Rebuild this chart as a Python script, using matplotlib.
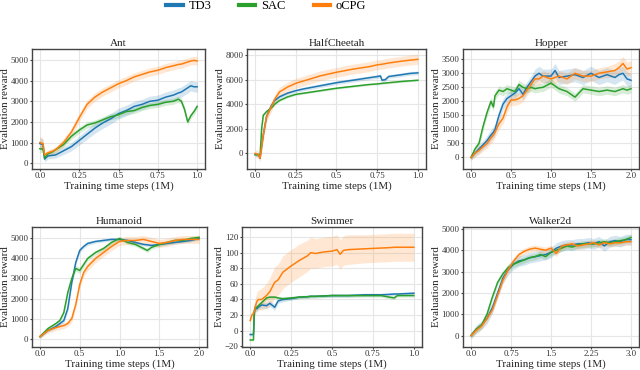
import matplotlib
matplotlib.use("Agg")
import matplotlib.pyplot as plt

plt.rcParams['font.family'] = ['Liberation Serif', 'DejaVu Serif']

colors = {'TD3': '#1f77b4', 'SAC': '#2ca02c', 'oCPG': '#ff7f0e'}

# ---- Ant ----
ant_x = [0, 0.02, 0.03, 0.05, 0.08, 0.1, 0.15, 0.2, 0.25, 0.3, 0.35, 0.4, 0.45, 0.5,
         0.55, 0.6, 0.65, 0.7, 0.75, 0.8, 0.85, 0.88, 0.9, 0.92, 0.94, 0.96, 0.98, 1.0]
ant_td3 = [950, 900, 200, 350, 380, 400, 600, 800, 1100, 1400, 1700, 1950, 2150, 2400,
           2550, 2750, 2850, 3000, 3050, 3200, 3300, 3400, 3450, 3550, 3650, 3750, 3700, 3700]
ant_sac = [700, 680, 250, 450, 550, 650, 900, 1300, 1600, 1850, 1950, 2100, 2250, 2350,
           2500, 2550, 2700, 2800, 2850, 2950, 3000, 3100, 3000, 2600, 2000, 2300, 2500, 2750]
ant_ocpg = [1000, 950, 400, 500, 580, 650, 1000, 1500, 2200, 2850, 3200, 3450, 3650, 3850,
            4000, 4180, 4300, 4420, 4500, 4630, 4720, 4780, 4800, 4850, 4900, 4950, 4980, 4950]
ant_td3_sd = [300, 250, 150, 150, 150, 150, 180, 200, 220, 240, 250, 260, 260, 260,
              260, 250, 250, 250, 250, 250, 250, 250, 250, 250, 250, 250, 250, 250]
ant_sac_sd = [200, 150, 100, 120, 120, 120, 130, 150, 150, 150, 150, 150, 150, 150,
              150, 150, 150, 150, 150, 150, 150, 150, 150, 150, 150, 150, 150, 150]
ant_ocpg_sd = [300, 250, 120, 150, 150, 150, 180, 200, 200, 200, 200, 200, 200, 200,
               200, 200, 200, 200, 200, 200, 200, 200, 200, 200, 200, 200, 200, 200]

# ---- HalfCheetah ----
hc_x = [0, 0.02, 0.03, 0.04, 0.05, 0.07, 0.1, 0.12, 0.15, 0.2, 0.25, 0.3, 0.4, 0.5,
        0.6, 0.7, 0.75, 0.77, 0.78, 0.8, 0.82, 0.9, 0.95, 1.0]
hc_td3 = [-100, -100, -400, 600, 1500, 3000, 3900, 4300, 4600, 4900, 5100, 5250, 5500, 5750,
          5950, 6150, 6250, 6300, 5950, 6000, 6250, 6400, 6500, 6550]
hc_sac = [-100, -100, -300, 2000, 3100, 3400, 3700, 4000, 4300, 4600, 4800, 4900, 5100, 5300,
          5450, 5600, 5650, 5680, 5700, 5720, 5750, 5850, 5900, 5950]
hc_ocpg = [0, -100, -400, 500, 1500, 3000, 3800, 4400, 5000, 5400, 5700, 5900, 6300, 6600,
           6850, 7050, 7200, 7230, 7250, 7300, 7350, 7500, 7580, 7650]
hc_td3_sd = [150, 150, 150, 300, 300, 250, 200, 200, 180, 150, 150, 150, 150, 150,
             150, 150, 150, 150, 150, 150, 150, 150, 150, 150]
hc_sac_sd = [100, 100, 100, 200, 150, 100, 80, 80, 80, 80, 80, 80, 80, 80,
             80, 80, 80, 80, 80, 80, 80, 80, 80, 80]
hc_ocpg_sd = [300, 300, 300, 500, 500, 450, 400, 400, 400, 400, 400, 400, 400, 400,
              400, 400, 400, 400, 400, 400, 400, 400, 400, 400]

# ---- Hopper ----
hop_x = [0, 0.05, 0.1, 0.15, 0.2, 0.25, 0.28, 0.3, 0.35, 0.4, 0.45, 0.5, 0.55, 0.6, 0.65,
         0.7, 0.75, 0.8, 0.85, 0.9, 1.0, 1.05, 1.1, 1.2, 1.3, 1.4, 1.5, 1.6, 1.7, 1.8,
         1.85, 1.9, 1.95, 2.0]
hop_td3 = [0, 150, 300, 450, 600, 800, 900, 1000, 1500, 1900, 2100, 2200, 2300, 2450, 2250,
           2500, 2700, 2900, 3000, 2900, 2900, 3100, 2850, 2900, 2950, 2850, 3000, 2850, 2950, 2850,
           2950, 3000, 2800, 2750]
hop_sac = [0, 300, 500, 1100, 1600, 2000, 1800, 2200, 2400, 2350, 2450, 2400, 2350, 2600, 2500,
           2450, 2500, 2450, 2480, 2500, 2650, 2550, 2450, 2350, 2150, 2450, 2400, 2350, 2400, 2350,
           2400, 2450, 2400, 2450]
hop_ocpg = [0, 150, 250, 380, 500, 700, 800, 900, 1200, 1400, 1800, 2050, 2050, 2100, 2200,
            2400, 2600, 2800, 2800, 2900, 2800, 2850, 2900, 2800, 3000, 2900, 2900, 3000, 3050, 3100,
            3200, 3350, 3150, 3200]
hop_td3_sd = [100, 120, 150, 150, 180, 200, 200, 200, 200, 200, 200, 200, 200, 200, 200,
              200, 200, 250, 250, 250, 250, 250, 250, 250, 250, 250, 250, 250, 250, 250,
              250, 250, 250, 250]
hop_sac_sd = [100, 120, 150, 150, 150, 150, 150, 150, 150, 150, 150, 150, 150, 150, 150,
              150, 150, 150, 150, 150, 150, 150, 150, 150, 150, 150, 150, 150, 150, 150,
              150, 150, 150, 150]
hop_ocpg_sd = [100, 120, 150, 150, 180, 200, 200, 200, 200, 200, 200, 200, 200, 200, 200,
               200, 200, 200, 200, 200, 200, 200, 200, 200, 200, 200, 200, 200, 200, 250,
               250, 250, 250, 250]

# ---- Humanoid ----
hum_x = [0, 0.1, 0.2, 0.25, 0.3, 0.35, 0.4, 0.45, 0.5, 0.55, 0.6, 0.7, 0.8, 0.9, 1.0,
         1.1, 1.2, 1.3, 1.35, 1.4, 1.5, 1.6, 1.7, 1.8, 1.9, 2.0]
hum_td3 = [100, 400, 600, 750, 900, 1500, 2800, 3800, 4400, 4600, 4750, 4850, 4900, 4950, 4950,
           4900, 4800, 4700, 4680, 4650, 4700, 4750, 4800, 4850, 4900, 5000]
hum_sac = [100, 500, 750, 900, 1300, 2300, 3000, 3500, 3400, 3700, 4000, 4300, 4500, 4800, 5000,
           4800, 4700, 4500, 4400, 4550, 4700, 4800, 4900, 4900, 5000, 5050]
hum_ocpg = [100, 400, 550, 600, 650, 750, 1000, 1700, 2700, 3300, 3600, 4000, 4300, 4600, 4850,
            4900, 4900, 4950, 4900, 4850, 4750, 4800, 4900, 4950, 4950, 4950]
hum_td3_sd = [80, 80, 100, 100, 120, 150, 150, 150, 120, 100, 100, 80, 80, 80, 80,
              80, 80, 80, 80, 80, 80, 80, 80, 80, 80, 80]
hum_sac_sd = [80, 80, 100, 100, 120, 150, 150, 150, 150, 150, 120, 100, 100, 100, 100,
              100, 100, 100, 100, 100, 100, 100, 100, 100, 100, 100]
hum_ocpg_sd = [100, 120, 150, 150, 150, 150, 180, 200, 200, 200, 200, 200, 200, 200, 200,
               200, 200, 200, 200, 200, 200, 200, 200, 200, 200, 200]

# ---- Swimmer ----
sw_x = [0, 0.01, 0.02, 0.025, 0.03, 0.04, 0.05, 0.07, 0.1, 0.12, 0.15, 0.17, 0.2, 0.25, 0.3,
        0.35, 0.37, 0.4, 0.45, 0.5, 0.53, 0.55, 0.57, 0.6, 0.7, 0.8, 0.85, 0.88, 0.9, 1.0]
sw_td3 = [-5, -5, -5, 20, 30, 28, 30, 33, 32, 35, 30, 38, 40, 41, 43,
          43.5, 44, 44, 44.5, 45, 45, 45, 45, 45, 46, 46, 46.5, 47, 47, 48]
sw_sac = [-12, -12, -12, 25, 28, 30, 32, 36, 42, 43, 43, 42, 41, 42, 43,
          43.5, 44, 44, 44.5, 45, 45, 45, 45, 45, 45, 45, 43, 42, 45, 45]
sw_ocpg = [13, 20, 22, 25, 30, 37, 40, 40, 45, 50, 62, 65, 75, 83, 90,
           96, 100, 99, 101, 102, 104, 98, 103, 104, 105, 106, 106.5, 107, 107, 107]
sw_td3_sd = [2, 2, 2, 4, 4, 4, 4, 4, 4, 4, 4, 3, 3, 2, 2,
             2, 2, 2, 2, 2, 2, 2, 2, 2, 2, 2, 2, 2, 2, 2]
sw_sac_sd = [1, 1, 1, 3, 3, 3, 3, 2, 2, 2, 2, 2, 2, 2, 2,
             2, 2, 2, 2, 2, 2, 2, 2, 2, 2, 2, 2, 2, 2, 2]
sw_ocpg_sd = [3, 5, 8, 10, 10, 12, 12, 14, 16, 18, 20, 20, 21, 21, 21,
              20, 20, 19, 19, 19, 19, 19, 19, 19, 18, 18, 18, 18, 18, 18]

# ---- Walker2d ----
wk_x = [0, 0.1, 0.2, 0.3, 0.4, 0.5, 0.6, 0.7, 0.8, 0.9, 1.0, 1.1, 1.2, 1.3, 1.4, 1.5,
        1.6, 1.7, 1.8, 1.9, 2.0, 2.1, 2.2, 2.3, 2.4, 2.5, 2.6, 2.7, 2.8, 2.9, 3.0]
wk_td3 = [0, 300, 500, 800, 1300, 2000, 2700, 3100, 3350, 3500, 3550, 3650, 3700, 3750, 3800, 3900,
          4100, 4200, 4250, 4250, 4300, 4300, 4350, 4300, 4400, 4200, 4400, 4450, 4400, 4500, 4500]
wk_sac = [0, 300, 500, 1000, 1800, 2500, 2900, 3200, 3350, 3450, 3550, 3650, 3700, 3800, 3700, 3900,
          4000, 4100, 4200, 4150, 4250, 4300, 4300, 4300, 4350, 4400, 4350, 4400, 4450, 4500, 4600]
wk_ocpg = [0, 250, 450, 800, 1200, 1900, 2600, 3100, 3500, 3800, 3950, 4050, 4100, 4050, 4000, 4100,
           3850, 4200, 4250, 4300, 4200, 4250, 4300, 4350, 4250, 4350, 4300, 4350, 4350, 4400, 4400]
wk_td3_sd = [150, 200, 200, 250, 250, 250, 250, 250, 250, 250, 250, 250, 250, 250, 250, 250,
             250, 250, 250, 250, 250, 250, 250, 250, 250, 250, 250, 250, 250, 250, 250]
wk_sac_sd = [100, 150, 150, 150, 150, 150, 150, 150, 150, 150, 150, 150, 150, 150, 150, 150,
             150, 150, 150, 150, 150, 150, 150, 150, 150, 150, 150, 150, 150, 150, 150]
wk_ocpg_sd = [100, 150, 150, 150, 150, 150, 150, 150, 150, 150, 150, 150, 150, 150, 150, 150,
              150, 150, 150, 150, 150, 150, 150, 150, 150, 150, 150, 150, 150, 150, 150]

panels = [
    ('Ant', ant_x, [ant_td3, ant_sac, ant_ocpg], [ant_td3_sd, ant_sac_sd, ant_ocpg_sd],
     [0, 0.25, 0.5, 0.75, 1.0], ['0.0', '0.25', '0.5', '0.75', '1.0'],
     [0, 1000, 2000, 3000, 4000, 5000], (-280, 5530), [32, 49, 205, 169]),
    ('HalfCheetah', hc_x, [hc_td3, hc_sac, hc_ocpg], [hc_td3_sd, hc_sac_sd, hc_ocpg_sd],
     [0, 0.25, 0.5, 0.75, 1.0], ['0.0', '0.25', '0.5', '0.75', '1.0'],
     [0, 2000, 4000, 6000, 8000], (-1270, 8490), [247, 49, 426, 169]),
    ('Hopper', hop_x, [hop_td3, hop_sac, hop_ocpg], [hop_td3_sd, hop_sac_sd, hop_ocpg_sd],
     [0, 0.5, 1.0, 1.5, 2.0], ['0.0', '0.5', '1.0', '1.5', '2.0'],
     [0, 500, 1000, 1500, 2000, 2500, 3000, 3500], (-410, 3865), [463, 49, 639, 169]),
    ('Humanoid', hum_x, [hum_td3, hum_sac, hum_ocpg], [hum_td3_sd, hum_sac_sd, hum_ocpg_sd],
     [0, 0.5, 1.0, 1.5, 2.0], ['0.0', '0.5', '1.0', '1.5', '2.0'],
     [0, 1000, 2000, 3000, 4000, 5000], (-420, 5570), [32, 227, 207, 347]),
    ('Swimmer', sw_x, [sw_td3, sw_sac, sw_ocpg], [sw_td3_sd, sw_sac_sd, sw_ocpg_sd],
     [0, 0.25, 0.5, 0.75, 1.0], ['0.0', '0.25', '0.5', '0.75', '1.0'],
     [-20, 0, 20, 40, 60, 80, 100, 120], (-21, 133), [242, 227, 422, 347]),
    ('Walker2d', wk_x, [wk_td3, wk_sac, wk_ocpg], [wk_td3_sd, wk_sac_sd, wk_ocpg_sd],
     [0, 0.75, 1.5, 2.25, 3.0], ['0.0', '0.75', '1.5', '2.25', '3.0'],
     [0, 1000, 2000, 3000, 4000, 5000], (-535, 5090), [463, 227, 639, 347]),
]

W, H = 640, 370
fig = plt.figure(figsize=(6.4, 3.7), dpi=100)

for title, x, series, sds, xt, xtl, yt, ylim, box in panels:
    l, t, r, b = box
    ax = fig.add_axes([l / W, 1 - b / H, (r - l) / W, (b - t) / H])
    for name, y, sd in zip(['TD3', 'SAC', 'oCPG'], series, sds):
        lo = [v - s for v, s in zip(y, sd)]
        hi = [v + s for v, s in zip(y, sd)]
        ax.fill_between(x, lo, hi, color=colors[name], alpha=0.18, lw=0)
        ax.plot(x, y, color=colors[name], lw=1.1, label=name)
    ax.set_title(title, fontsize=8, pad=2.5, color='#222222')
    ax.set_xticks(xt)
    ax.set_xticklabels(xtl)
    ax.set_yticks(yt)
    ax.set_ylim(*ylim)
    ax.set_xlim(-0.05 * max(xt), 1.05 * max(xt))
    ax.grid(True, color='#e6e6e6', lw=0.8)
    ax.set_axisbelow(True)
    for sp in ax.spines.values():
        sp.set_color('#444444')
        sp.set_linewidth(1.0)
    ax.tick_params(labelsize=6.4, length=1.5, width=0.8, pad=1.0, color='#444444',
                   labelcolor='#333333')
    ax.set_xlabel('Training time steps (1M)', fontsize=7.8, labelpad=0.5, color='#222222')
    ax.set_ylabel('Evaluation reward', fontsize=7.8, labelpad=0.5, color='#222222')

handles = [plt.Line2D([], [], color=colors[n], lw=3) for n in ['TD3', 'SAC', 'oCPG']]
fig.legend(handles, ['TD3', 'SAC', 'oCPG'], loc='upper left',
           bbox_to_anchor=(155 / W, 1.03), ncol=3, frameon=False, fontsize=9,
           handlelength=1.3, columnspacing=2.2, handletextpad=0.5)

fig.savefig('out.png', dpi=100)
